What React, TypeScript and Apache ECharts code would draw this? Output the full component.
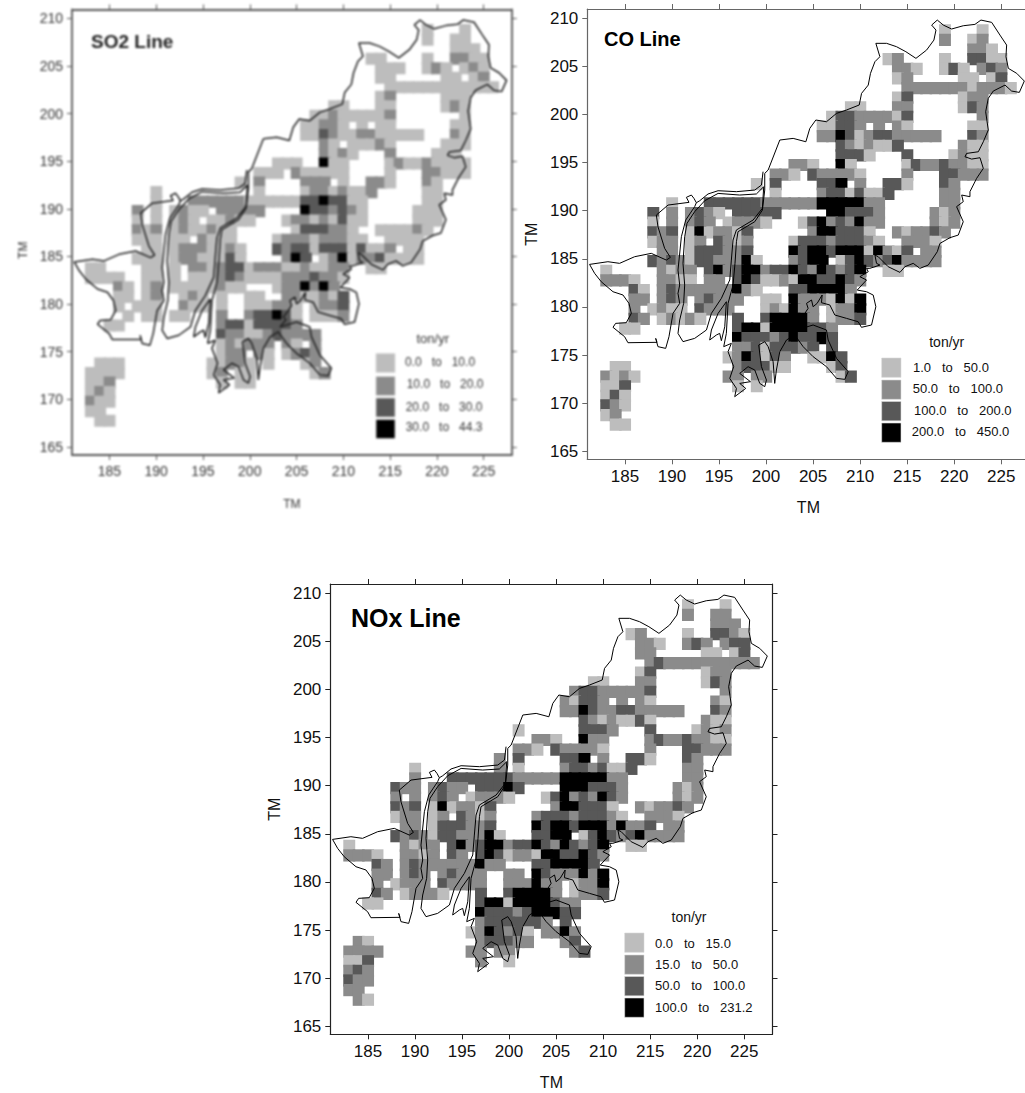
import React, { useEffect, useRef } from "react";
import * as echarts from "echarts";

const xTicks = [185, 190, 195, 200, 205, 210, 215, 220, 225];
const yTicks = [165, 170, 175, 180, 185, 190, 195, 200, 205, 210];
const levelColors: Record<string, string> = { L: "#bdbdbd", M: "#8b8b8b", D: "#585858", B: "#000000" };

// Each row: [TM northing, "easting(-easting)level ..."], L/M/D/B = lowest to highest legend class
const coRows: [number, string][] = [
  [209, "219L 223L"], [208, "219M 222L 223M"], [207, "222-223M 224L"],
  [206, "213L 214M 219L 222-223D 224-225L"],
  [205, "214-215M 216L 219L 220D 221L 223M 224D 225M"],
  [204, "214L 215M 221-222L 224L 225D"],
  [203, "215-221M 222L 223-225M 226L"],
  [202, "214L 215D 221L 222-223M"],
  [201, "209-210L 214-215M 221L 222D 223M"],
  [200, "207L 208-209D 210-213M 214L 215D 223M"],
  [199, "206-207L 208-209D 210M 212M 214M 215L 222-223L"],
  [198, "206-207M 208B 209D 210L 211M 212-213D 214-218M 222D 223M"],
  [197, "208D 209M 210L 211M 212-213L 214D 221M 222-223L"],
  [196, "208-210D 211L 215D 220L 221M 222-223L"],
  [195, "203-204M 205L 208B 209L 215L 216D 217-218M 219D 220-221M 222-223L"],
  [194, "201-202M 203L 205D 206-209M 210L 215M 219-220D 221-223M"],
  [193, "199L 201D 206-207D 208B 210M 213-214D 215L 219D 220M"],
  [192, "201L 206M 207-208D 209L 210D 211-212L 213D 219-220M"],
  [191, "190L 194-199D 200-205M 206-210B 211-212M 219-220M"],
  [190, "188D 190M 192M 193D 194M 195L 197-201D 207-208B 209-211D 212M 218M 219L 220M"],
  [189, "188L 190M 192M 193D 194M 196L 197-199M 200L 204L 205D 206B 207M 208D 209M 210B 211-212M 218M 219L 220M"],
  [188, "188D 189M 190D 192L 193B 194L 195-196M 197L 198D 205M 206-207B 208-210D 211L 214M 215L 216-217M 218D 219M"],
  [187, "188L 189-190M 192L 193M 195D 196M 197L 198M 203L 204-206D 207M 208-210D 211M 212L 215-217M 218L"],
  [186, "189-190M 192L 193-195D 196-197M 198D 203B 204D 205-206B 207D 208-210B 211L 212B 213M 214L 215D 217-218M"],
  [185, "188D 189M 190D 191M 192L 193-194D 195-197M 198B 199L 203M 204D 205-206B 208L 209D 210B 211D 212M 213D 214B 215-218M"],
  [184, "183L 189M 190L 191-192M 194D 195B 196M 197D 198-199B 200M 201-202D 203B 204D 205M 206B 207D 208M 209D 210B 213-214L"],
  [183, "183-185M 186L 189-190M 191-192L 194-195M 197D 198B 199D 200-201L 202M 203L 204-205B 206-207D 208B 209D 210M"],
  [182, "186D 187L 189M 190D 191-196M 197B 198M 199L 203-204D 205-208B 209M"],
  [181, "186-187M 189M 190D 191M 193M 194D 195-197M 200-201L 203B 204-206M 207L 208B 209L 210B"],
  [180, "186M 188L 189M 190-191L 193D 194-196M 200L 201M 202L 203B 204-205M 207L 208-209M 210B"],
  [179, "186D 187M 189L 190M 191L 192M 193L 197D 200D 201-204B 205M 207L 208-209M 210D"],
  [178, "185-186L 197D 198-199B 200L 201-204B 205-206D 207M"],
  [177, "197B 198-200D 201M 202D 203B 204-205D 206B 207D"],
  [176, "197-198M 199D 200L 201-203D 204M 205D 207D"],
  [175, "196L 197M 198B 199D 200L 201D 202M 205-206L 207B 208D"],
  [174, "184-185L 197M 198-200D 201-202L 207L 208D"],
  [173, "183M 184L 185M 186L 196-197M 199-200M 208L 209D"],
  [172, "183-184L 185D 197L 199L"],
  [171, "183L 184D 185L"], [170, "183D 184M 185L"], [169, "183L 184M"], [168, "184-185L"],
];

const noxRows: [number, string][] = [
  [209, "219L 223L"], [208, "219M 222-223M"], [207, "222-224M"],
  [206, "213L 214M 219L 222-223D 224M 225L"],
  [205, "214-215M 216L 219M 220D 221M 223M 224-225D"],
  [204, "214-215M 221-222L 224L 225D"],
  [203, "215M 216D 217-226M"],
  [202, "214L 215D 221L 222-223M"],
  [201, "209-210L 214-215M 221L 222D 223M"],
  [200, "207M 208-209D 210-214M 215D 223M"],
  [199, "206M 207L 208-209D 210M 212M 214M 215L 222M 223L"],
  [198, "206-207M 208B 209D 210-211M 212-213D 214-218M 222D 223M"],
  [197, "208D 209M 210L 211M 212-213L 214D 215L 221M 222-223L"],
  [196, "201L 208-210D 211M 215D 220L 221M 222L 223M"],
  [195, "203-204M 205L 208B 209-210M 215M 216D 217-218M 219D 220-221M 222-223L"],
  [194, "201-202M 203L 205D 206-209M 210L 215M 219-220D 221-223M"],
  [193, "199M 201D 206-207D 208B 210M 213-214D 215L 219D 220M"],
  [192, "190L 199M 201L 206M 207-208D 209M 210D 211-212L 213D 219-220M"],
  [191, "190M 194-200D 201-205M 206-210B 211-212M 219-220M"],
  [190, "188D 189-190M 192M 193D 194-195M 197-199D 200B 201D 206-208B 209-211D 212M 218M 219L 220M"],
  [189, "188M 190M 192M 193D 194M 196L 197-199M 200L 204L 205D 206B 207M 208D 209M 210B 211D 212M 218M 219L 220M"],
  [188, "188D 189M 190D 192L 193B 194L 195-196M 197L 198D 205M 206-207B 208-210D 211L 214M 215L 216-217M 218D 219M"],
  [187, "188L 189-190M 192L 193M 195D 196M 197L 198M 203M 204-206D 207M 208-210D 211M 212L 215-217M 218L"],
  [186, "189-190M 192L 193-195D 196-197M 198D 203B 204D 205-206B 207D 208-210B 211M 212B 213-214M 215D 217-218M"],
  [185, "188D 189M 190D 191M 192L 193-194D 195-197M 198B 199L 203-204D 205-206B 208L 209D 210B 211D 212M 213D 214B 215-218M"],
  [184, "183L 189M 190L 191-192M 194D 195B 196M 197D 198-199B 200M 201-202D 203B 204D 205M 206B 207D 208M 209D 210B 213-214L"],
  [183, "183-185M 186L 189-190M 191L 192M 194D 195M 197D 198B 199D 200L 201-202M 203L 204-205B 206-207D 208B 209D 210M"],
  [182, "186D 187M 189M 190D 191-196M 197B 198-199M 203-204D 205-208B 209D"],
  [181, "186-187M 189M 190D 191M 193M 194D 195-197M 200-201M 203B 204D 205-207M 208B 209M 210B"],
  [180, "186M 188L 189M 190-191M 193D 194-197M 200-202M 203B 204-205M 207L 208-209M 210B"],
  [179, "186D 187M 189L 190-192M 193L 197D 200D 201-204B 205M 207L 208-209M 210D"],
  [178, "185-186L 197D 198-199B 200L 201-204B 205D 206-207M"],
  [177, "197B 198-200D 201M 202D 203-205B 206-207D"],
  [176, "197M 198-203D 204M 206D"],
  [175, "196L 197M 198B 199D 200M 201D 202L 204-205M 206B 207M"],
  [174, "184M 185L 197M 198-200D 201-202M 206M 207D"],
  [173, "183-186M 196-197M 199-200M 207M 208D"],
  [172, "183-184L 185D 197M 200L"],
  [171, "183M 184D 185M"], [170, "183D 184-185M"], [169, "183-184M"], [168, "184M 185L"],
];

const so2Rows: [number, string][] = [
  [209, "219L 223L"], [208, "219L 222-223L"], [207, "222-224L"],
  [206, "213-214L 219L 222-223M 224-225L"],
  [205, "214-216L 219L 220M 221L 223L 224M 225L"],
  [204, "214-215L 221-222L 224L 225M"],
  [203, "215-226L"],
  [202, "214L 215M 221-223L"],
  [201, "209-210L 214-215L 221L 222M 223L"],
  [200, "207-208L 209M 210-214L 215M 223L"],
  [199, "206-207L 208-209M 210L 212L 214-215L 222-223L"],
  [198, "206-207L 208D 209M 210-211L 212-213M 214-218L 222M 223L"],
  [197, "208M 209L 211L 212-213L 214M 215L 221-223L"],
  [196, "208M 209L 210M 211L 215M 220-222L"],
  [195, "203-205L 208B 209-210L 215L 216M 217-218L 219M 220-223L"],
  [194, "201-203L 205M 206-210L 215L 219-220M 221-223L"],
  [193, "199L 201M 206-208M 210L 213-214M 215L 219M 220L"],
  [192, "190L 201L 206L 207-208M 209L 210M 211-212L 213M 219-220L"],
  [191, "190L 194-199M 200-205L 206-207D 208B 209-210D 211-212L 219-220L"],
  [190, "188M 190L 192L 193M 194-195L 197-201M 206B 207-208D 209M 210D 211M 212L 218-220L"],
  [189, "188L 190L 192L 193M 194L 196-197L 198M 199-200L 204L 205-206M 207L 208M 209L 210D 211-212L 218-220L"],
  [188, "188M 189L 190M 192L 193M 194-195L 196M 197-198L 205L 206-208D 209-210M 211L 214-217L 218M 219L"],
  [187, "188-190L 192-193L 195M 196-198L 203L 204-206M 207L 208-210M 211-212L 215-218L"],
  [186, "189-190L 192L 193-195M 196-197L 198M 199L 203D 204M 205-206D 207L 208-210D 211L 212D 213-214L 215M 217-218L"],
  [185, "188-190L 192L 193-194M 195-197L 198D 199L 204M 205B 206D 208L 209M 210B 211L 212-213M 214D 215-218L"],
  [184, "183-184L 189-190L 192L 194-195M 196L 197M 198-199D 200L 201-203M 204-205L 206M 207-208L 209-210M 213-214L"],
  [183, "183-186L 189-190L 192L 194-196L 197M 198D 199M 200-203L 204-206M 207D 208-209M 210L"],
  [182, "186M 187L 189L 190M 192-196L 197M 198-199L 203L 204-205M 206B 207M 208B 209M"],
  [181, "186-187L 189L 190M 193L 194M 195L 197L 200-201L 204-205M 206-207L 208M 209L 210D"],
  [180, "186L 188-190L 193M 194-195L 197L 200-202L 203-204M 205L 207L 208-209M 210D"],
  [179, "187L 189-190L 192-193L 197M 200M 201-202D 203B 204D 205L 207-209L 210M"],
  [178, "185-186L 197M 198-199D 200L 201-204D 205M"],
  [177, "197D 198-199M 200-201L 202M 203D 204-207M"],
  [176, "197L 198M 199L 200-202M 204M 205L 207M"],
  [175, "197L 198-199M 201M 202L 204L 205M 206D 207M"],
  [174, "184-186L 196-197L 198-199M 200L 202L 206L 207M"],
  [173, "183-186L 196L 197M 199-200L 207L 208M"],
  [172, "183-184L 185M 197L 199-200L"],
  [171, "183L 184M 185L"], [170, "183M 184-185L"], [169, "183-184L"], [168, "184-185L"],
];

// Coast and river outlines in TM kilometres
const coastMain: number[][] = [
  [201.46,197.35],[202.88,197.52],[204.23,197.17],[204.65,198.56],[205.29,199.43],[206.42,199.25],[207.49,200.12],[208.55,200.47],[209.9,200.99],[210.15,202.2],[210.86,203.06],[211.1,204.28],[211.57,205.49],[212.1,206.01],[211.67,207.4],[212.81,207.4],[213.87,207.05],[214.86,206.53],[215.93,205.84],[217.06,206.7],[217.84,207.74],[218.06,208.78],[217.6,209.3],[218.2,209.82],[218.84,209.3],[219.72,208.89],[220.96,209.23],[222.2,209.37],[222.84,209.82],[223.98,209.58],[224.86,208.26],[225.57,207.22],[225.5,206.01],[225.75,204.8],[226.64,204.28],[227.45,203.48],[226.92,202.3],[226.1,202.44],[225.4,203.06],[224.15,202.44],[223.62,201.68],[223.34,200.29],[223.62,198.39],[223.09,197.17],[222.56,196.13],[221.32,195.96],[221.14,195.61],[221.85,195.37],[222.74,195.51],[223.09,194.4],[222.38,193.36],[221.67,191.98],[221.67,191.46],[220.79,191.63],[220.96,190.94],[220.25,190.42],[220.96,188.86],[220.43,187.47],[219.55,187.2],[218.48,186.6],[218.2,185.74],[217.24,184.35],[216.35,184.01],[215.64,184.53],[214.76,184.18],[214.23,183.59],[212.98,184.18],[211.92,185.22],[211.57,185.39],[211.74,184.53],[212.1,184.35],[211.03,184.01],[210.68,184.01],[210.86,183.66],[209.97,183.14],[210.68,182.8],[209.69,181.75],[210.68,181.58],[211.39,181.23],[211.67,180.02],[211.21,178.12],[210.14,177.88],[209.79,178.46],[208.55,178.81],[207.31,179.16],[206.78,180.2],[205.89,180.44],[205.96,181.24],[205.43,180.37],[205.0,180.02],[204.83,180.72],[204.3,180.37],[204.47,179.85],[204.01,179.16],[203.58,178.64],[203.87,178.36],[203.23,177.6],[205.0,178.12],[206.42,177.6],[206.6,176.56],[207.49,174.65],[208.73,173.27],[208.37,172.47],[207.49,172.57],[206.42,173.79],[205.0,174.83],[203.94,175.87],[203.05,177.08],[202.17,176.56],[201.46,175.35],[201.1,173.44],[200.92,172.05],[200.75,174.31],[200.22,175.87],[199.86,176.39],[199.22,176.04],[199.51,173.79],[200.04,172.4],[199.86,171.71],[199.33,172.05],[198.8,173.44],[198.09,173.79],[197.2,173.09],[198.34,172.23],[197.2,172.05],[197.84,171.53],[196.67,170.67],[196.85,171.53],[196.14,172.57],[196.56,173.79],[195.96,175.35],[196.31,176.21],[195.5,175.87],[195.78,177.25],[195.96,180.37],[196.49,182.28],[196.7,184.53],[196.85,186.78],[197.02,187.82],[198.8,188.86],[199.61,190.07],[199.86,192.15],[199.86,193.88],[200.22,194.23],[201.46,197.35],
];
const coastWest: number[][] = [
  [199.68,194.06],[199.51,192.67],[198.8,192.15],[196.85,191.98],[194.9,192.08],[193.83,191.74],[192.95,191.04],[192.59,190.83],[192.34,191.28],[192.06,191.63],[191.53,191.39],[191.81,190.87],[189.58,190.59],[188.34,189.55],[188.51,188.34],[189.22,186.09],[189.83,185.15],[189.4,184.87],[187.8,185.57],[186.03,185.22],[184.43,184.53],[183.19,184.7],[181.24,184.42],[181.78,183.49],[182.48,182.62],[183.73,181.58],[184.79,181.24],[185.43,180.37],[185.68,179.33],[185.14,178.36],[184.01,178.29],[183.73,177.88],[184.97,176.9],[185.32,176.28],[188.41,176.32],[188.27,176.73],[188.51,175.87],[189.33,175.69],[189.68,176.9],[190.11,179.33],[190.82,180.37],[190.64,181.41],[190.82,182.28],[190.64,183.83],[191.0,187.3],[191.46,189.03],[192.41,190.42],[192.59,190.83],
];
const deltaIsland: number[][] = [
  [199.75,192.5],[199.61,190.25],[198.62,189.03],[196.85,188.0],[196.49,186.95],[196.31,184.87],[196.14,182.8],[195.25,180.89],[194.19,179.33],[193.66,177.6],[192.41,176.73],[191.17,176.39],[190.64,177.25],[190.82,178.64],[191.24,180.37],[191.35,182.28],[191.17,184.53],[191.35,187.3],[191.6,188.69],[192.41,189.9],[193.48,191.04],[194.9,191.8],[197.2,191.63],[198.97,191.74],[199.75,192.5],
];
const smallIsland: number[][] = [
  [195.78,180.54],[194.9,179.33],[194.19,177.6],[194.01,176.56],[194.72,177.08],[195.07,177.25],[195.25,176.49],[195.61,177.94],[195.78,180.54],
];
const outlines = [coastMain, coastWest, deltaIsland, smallIsland];

const so2Legend = ["0.0   to   10.0", "10.0   to   20.0", "20.0   to   30.0", "30.0   to   44.3"];
const coLegend = ["1.0   to   50.0", "50.0   to   100.0", "100.0   to   200.0", "200.0   to   450.0"];
const noxLegend = ["0.0   to   15.0", "15.0   to   50.0", "50.0   to   100.0", "100.0   to   231.2"];
const legendUnit = "ton/yr";

function expand(rows: [number, string][]): [number, number, string][] {
  const out: [number, number, string][] = [];
  rows.forEach(([y, spec]) => {
    spec.split(" ").forEach((tok) => {
      const lev = tok[tok.length - 1];
      const [a, b] = tok.slice(0, -1).split("-").map(Number);
      for (let x = a; x <= (b ?? a); x++) out.push([x, y, lev]);
    });
  });
  return out;
}

type Panel = {
  grid: { left: number; top: number; width: number; height: number };
  yMax: number; rows: [number, string][];
  tickFont: number; tickColor: string; nameFont: number; nameGapX: number; nameGapY: number; labelMargin: number;
  axisColor: string; axisWidth: number; coastColor: string; coastWidth: number; namePadY: number[];
};

function buildOption(panels: Panel[], titles: any[], graphics: any[]) {
  const grid: any[] = [], xAxis: any[] = [], yAxis: any[] = [], series: any[] = [];
  panels.forEach((p, i) => {
    grid.push({ ...p.grid, containLabel: false, outerBoundsMode: "none" });
    const line = { show: true, onZero: false, lineStyle: { color: p.axisColor, width: p.axisWidth } };
    const tick = (vals: number[]) => ({ show: true, length: 5, inside: false, customValues: vals, lineStyle: { color: p.axisColor, width: 1 } });
    const lab = (vals: number[]) => ({ show: true, customValues: vals, fontFamily: "Liberation Sans", fontSize: p.tickFont, color: p.tickColor, margin: p.labelMargin });
    const nameStyle = { fontFamily: "Liberation Sans", fontSize: p.nameFont, color: p.tickColor };
    xAxis.push({ gridIndex: i, type: "value", position: "bottom", min: 181, max: 228, axisLine: line, axisTick: tick(xTicks), axisLabel: lab(xTicks), splitLine: { show: false }, name: "TM", nameLocation: "middle", nameTextStyle: nameStyle, nameGap: p.nameGapX });
    xAxis.push({ gridIndex: i, type: "value", position: "top", min: 181, max: 228, axisLine: line, axisTick: tick(xTicks), axisLabel: { show: false }, splitLine: { show: false } });
    yAxis.push({ gridIndex: i, type: "value", position: "left", min: 164.16, max: p.yMax, axisLine: line, axisTick: tick(yTicks), axisLabel: lab(yTicks), splitLine: { show: false }, name: "TM", nameLocation: "middle", nameTextStyle: { ...nameStyle, padding: p.namePadY }, nameGap: p.nameGapY });
    yAxis.push({ gridIndex: i, type: "value", position: "right", min: 164.16, max: p.yMax, axisLine: line, axisTick: tick(yTicks), axisLabel: { show: false }, splitLine: { show: false } });
    series.push({
      type: "custom", xAxisIndex: i * 2, yAxisIndex: i * 2, silent: true, clip: true, z: 2,
      encode: { x: 0, y: 1 },
      data: expand(p.rows),
      renderItem: (_: any, api: any) => {
        const x = api.value(0), y = api.value(1);
        const a = api.coord([x - 0.62, y + 0.39]);
        const b = api.coord([x + 0.65, y - 0.88]);
        return { type: "rect", shape: { x: a[0], y: a[1], width: b[0] - a[0], height: b[1] - a[1] }, style: { fill: levelColors[api.value(2) as string] } };
      },
    });
    outlines.forEach((o) => series.push({
      type: "line", xAxisIndex: i * 2, yAxisIndex: i * 2, data: o, showSymbol: false, symbol: "none", silent: true, z: 5,
      lineStyle: { color: p.coastColor, width: p.coastWidth }, smooth: false,
    }));
  });
  return { animation: false, backgroundColor: "transparent", grid, xAxis, yAxis, series, title: titles, graphic: { elements: graphics }, tooltip: { show: false } };
}

function legendGraphics(sx: number, sy: number[], size: number, tx: number[], ty: number[], labels: string[], ux: number, uy: number, font: number, color: string) {
  const g: any[] = [];
  g.push({ type: "text", x: ux, y: uy, style: { text: legendUnit, fontFamily: "Liberation Sans", fontSize: font + 1, fill: color, textAlign: "center", textVerticalAlign: "middle" } });
  const cols = [levelColors.L, levelColors.M, levelColors.D, levelColors.B];
  labels.forEach((t, i) => {
    g.push({ type: "rect", shape: { x: sx, y: sy[i], width: size, height: size }, style: { fill: cols[i], stroke: "#d8d8d8", lineWidth: 0.6 } });
    g.push({ type: "text", x: tx[i], y: ty[i], style: { text: t, fontFamily: "Liberation Sans", fontSize: font, fill: color, textVerticalAlign: "middle" } });
  });
  return g;
}

const so2Panel: Panel = {
  grid: { left: 72, top: 9.5, width: 439.7, height: 445.5 }, yMax: 210.92, rows: so2Rows,
  tickFont: 14, tickColor: "#333", nameFont: 12, nameGapX: 43, nameGapY: 32, labelMargin: 9,
  axisColor: "#555", axisWidth: 1.8, coastColor: "#222", coastWidth: 1.5, namePadY: [0, 36, 0, 0],
};
const coPanel: Panel = {
  grid: { left: 587.3, top: 9, width: 442.2, height: 450.3 }, yMax: 210.97, rows: coRows,
  tickFont: 17, tickColor: "#111", nameFont: 16, nameGapX: 40, nameGapY: 48, labelMargin: 9,
  axisColor: "#666", axisWidth: 1.2, coastColor: "#000", coastWidth: 1, namePadY: [0, 0, 0, 0],
};
const noxPanel: Panel = {
  ...coPanel, grid: { left: 330.3, top: 584, width: 442.2, height: 450.3 }, rows: noxRows, axisColor: "#222",
};

export default function App() {
  const a = useRef<HTMLDivElement>(null);
  const b = useRef<HTMLDivElement>(null);
  useEffect(() => {
    const c1 = echarts.init(a.current!, undefined, { renderer: "svg" });
    c1.setOption(buildOption([coPanel, noxPanel], [
      { text: "CO Line", left: 604, top: 29, padding: 0, textStyle: { fontFamily: "Liberation Sans", fontWeight: "bold", fontSize: 20, color: "#000" } },
      { text: "NOx Line", left: 351, top: 605, padding: 0, textStyle: { fontFamily: "Liberation Sans", fontWeight: "bold", fontSize: 25, color: "#000" } },
    ], [
      ...legendGraphics(881.7, [358, 380, 401.5, 423], 19.3, [913, 912.7, 914, 911.7], [367, 388.5, 410, 431.7], coLegend, 946.7, 342, 13, "#111"),
      ...legendGraphics(624.7, [933, 955, 976.5, 998], 19.3, [655, 655, 655, 655], [943, 964, 985, 1007], noxLegend, 689, 917, 13, "#111"),
    ]) as any);
    const c2 = echarts.init(b.current!, undefined, { renderer: "svg" });
    c2.setOption(buildOption([so2Panel], [
      { text: "SO2 Line", left: 91, top: 32, padding: 0, textStyle: { fontFamily: "Liberation Sans", fontWeight: "bold", fontSize: 19, color: "#222" } },
    ], legendGraphics(376, [353.5, 376.5, 398, 419.5], 19, [405, 406.7, 405.7, 405.7], [361.7, 384, 406.7, 426.7], so2Legend, 432.7, 338, 12, "#333")) as any);
    return () => { c1.dispose(); c2.dispose(); };
  }, []);
  return (
    <div style={{ position: "absolute", left: 0, top: 0, width: 1025, height: 1093, overflow: "hidden", background: "#fff" }}>
      <div ref={a} style={{ position: "absolute", left: 0, top: 0, width: 1025, height: 1093 }} />
      <div ref={b} style={{ position: "absolute", left: 0, top: 0, width: 530, height: 530, filter: "blur(0.9px)" }} />
    </div>
  );
}
